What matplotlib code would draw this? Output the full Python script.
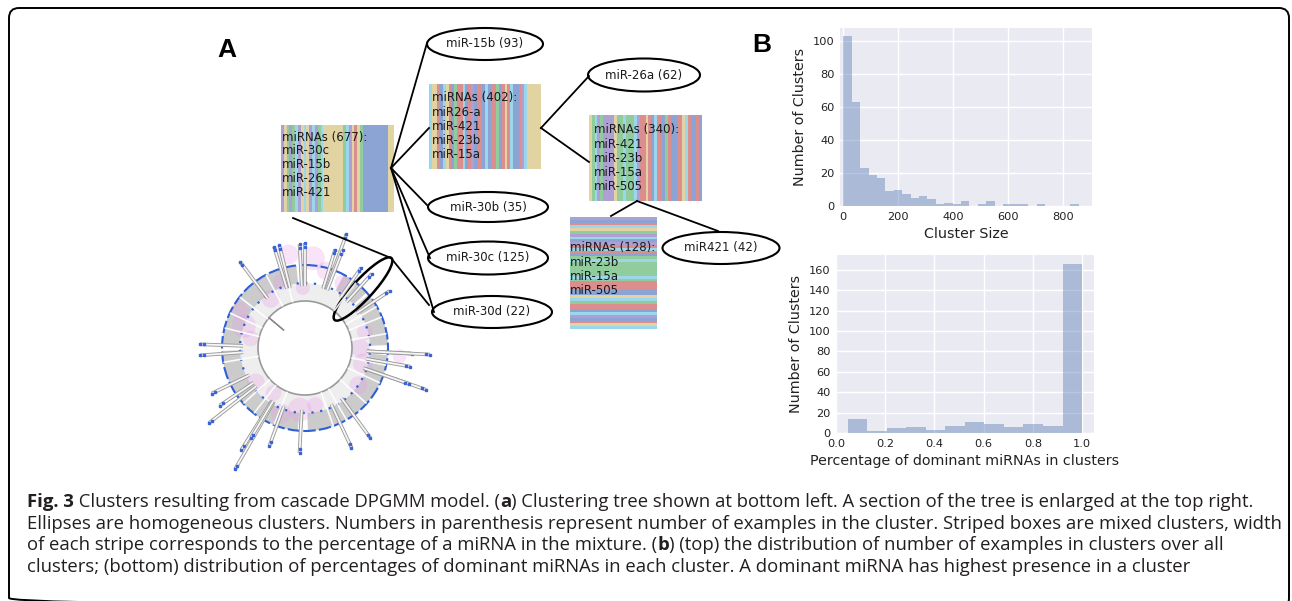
import numpy as np
import matplotlib
matplotlib.use("Agg")
import matplotlib.pyplot as plt
from matplotlib import font_manager
from matplotlib.patches import Ellipse, Rectangle, Wedge, Circle, FancyBboxPatch

# ---------------- panel B data ----------------
size_counts = [103, 63, 23, 19, 17, 9, 10, 7, 5, 6, 4, 1, 2, 1, 3, 0,
               1, 3, 0, 1, 1, 1, 0, 1, 0, 0, 0, 1]
size_bin_width = 30.6
dom_counts = [14, 2, 5, 6, 3, 7, 11, 9, 6, 9, 7, 166]
dom_bin_start = 0.047
dom_bin_width = 0.0794
size_ticks = [0, 200, 400, 600, 800]
dom_ticks = [0.0, 0.2, 0.4, 0.6, 0.8, 1.0]

# ---------------- panel A data ----------------
leaf_labels = ["miR-15b (93)", "miR-26a (62)", "miR-30b (35)",
               "miR-30c (125)", "miR-30d (22)", "miR421 (42)"]
mixed_labels = ["miRNAs (677):\nmiR-30c\nmiR-15b\nmiR-26a\nmiR-421",
                "miRNAs (402):\nmiR26-a\nmiR-421\nmiR-23b\nmiR-15a",
                "miRNAs (340):\nmiR-421\nmiR-23b\nmiR-15a\nmiR-505",
                "miRNAs (128):\nmiR-23b\nmiR-15a\nmiR-505"]
# one letter per stripe unit (b blue, r red, g green, p purple, y sand, c cyan)
mixed_stripes = ["pygpgcpycypcpgcyyyyyyygcpyrygbbbbbbbbbyy",
                 "cyyrbcyrbgrrcbrpbrrbcbrrgbryrcbbrpcyyyyy",
                 "ygcpgppppyggcgggcprryrbcrrbgrbbrrycrbbrb",
                 "pbrcygpcbprcrbgcgggggcgrrrbbycgrrbcpbryc"]
stripe_colors = {"b": "#8ba4d4", "r": "#dc8e8f", "g": "#91cc9c",
                 "p": "#ae9fd4", "y": "#e2d4a2", "c": "#9cd6ea"}

# circular clustering tree (angles in degrees, radii in px)
spike_angle = [70, 69, 73, 90, 93, 104, 107, 127, 34, 178, 184, -3, -3, -10,
               -19, -19, 206, 214, 218, 238, 240, 239, 250, 267, -65, -54, 48, 55]
spike_radius = [121, 105, 103, 105, 104, 106, 106, 108, 102, 105, 105, 107, 125, 107,
                128, 110, 104, 103, 122, 120, 140, 105, 104, 105, 110, 111, 100, 98]
band_sectors = [(96, 178), (182, 265), (272, 355), (2, 40), (42, 62)]
gap_angle = [105, 118, 142, 155, 166, 190, 222, 232, 248, 290, 300, 318, 335, 348, 10, 22, 30, 52]
blob_angle = [85, 100, 75, 110, 92, 160, 150, 170, 215, 235, 265, 280, 250,
              -15, 0, 15, -35, -5, 60, 125]
blob_radius = [90, 95, 80, 70, 60, 65, 75, 55, 60, 55, 62, 58, 70, 60, 55, 62, 65, 95, 75, 60]
blob_size = [12, 10, 9, 8, 7, 12, 9, 8, 9, 8, 12, 8, 10, 10, 9, 8, 9, 7, 8, 9]

caption = [
    [("Fig. 3", "bold"), (" Clusters resulting from cascade DPGMM model. (", "normal"),
     ("a", "bold"), (") Clustering tree shown at bottom left. A section of the tree is enlarged at the top right.", "normal")],
    [("Ellipses are homogeneous clusters. Numbers in parenthesis represent number of examples in the cluster. Striped boxes are mixed clusters, width", "normal")],
    [("of each stripe corresponds to the percentage of a miRNA in the mixture. (", "normal"),
     ("b", "bold"), (") (top) the distribution of number of examples in clusters over all", "normal")],
    [("clusters; (bottom) distribution of percentages of dominant miRNAs in each cluster. A dominant miRNA has highest presence in a cluster", "normal")],
]

W, H = 1292, 601
fig = plt.figure(figsize=(W / 100, H / 100), dpi=100)
ax0 = fig.add_axes([0, 0, 1, 1])
ax0.set_xlim(0, W)
ax0.set_ylim(H, 0)
ax0.axis("off")
renderer = fig.canvas.get_renderer()

# outer frame
ax0.add_patch(FancyBboxPatch((9, 8), 1280, 600, boxstyle="round,pad=0,rounding_size=10",
                             fc="none", ec="black", lw=1.4))

ax0.text(227, 50, "A", fontsize=19, fontweight="bold", family="Liberation Sans",
         ha="center", va="center")
ax0.text(762, 45, "B", fontsize=19, fontweight="bold", family="Liberation Sans",
         ha="center", va="center")

# ---- tree ----
cx, cy = 305, 348


def polar(a, r):
    t = np.deg2rad(a)
    return cx + r * np.cos(t), cy - r * np.sin(t)


ax0.add_patch(Wedge((cx, cy), 65, 0, 360, width=18, fc="#d0d0d0", alpha=0.35, lw=0))
for a1, a2 in band_sectors:
    ax0.add_patch(Wedge((cx, cy), 83, -a2, -a1, width=18, fc="#8c8c8c", alpha=0.45, lw=0))
for a in gap_angle:
    ax0.plot(*zip(polar(a, 48), polar(a, 82)), color="white", lw=1.2, alpha=0.9)
for a, r, s in zip(blob_angle, blob_radius, blob_size):
    ax0.add_patch(Circle(polar(a, r), s, fc="#e79be9", alpha=0.28, lw=0))
for a, r in zip(spike_angle, spike_radius):
    x1, y1 = polar(a, 62)
    x2, y2 = polar(a, r)
    ax0.plot([x1, x2], [y1, y2], color="#9a9a9a", lw=2.6, solid_capstyle="butt")
    ax0.plot([x1, x2], [y1, y2], color="#f6f6f6", lw=1.3, solid_capstyle="butt")
    ax0.plot(*polar(a, r), "s", color="#3a63d8", ms=1.8)
    ax0.plot(*polar(a, r - 4), "s", color="#3a63d8", ms=1.8)
ax0.plot(*zip(polar(140, 28), polar(140, 47)), color="#888888", lw=1)
ax0.add_patch(Circle((cx, cy), 47, fc="white", ec="#999999", lw=1.2))
ax0.add_patch(Circle((cx, cy), 65, fc="none", ec="#2f5fd6", lw=1.6, ls=(0, (1, 3))))
ax0.add_patch(Circle((cx, cy), 83, fc="none", ec="#2f5fd6", lw=1.5, ls=(0, (6, 1.5))))
ax0.plot(*zip(polar(140, 28), polar(140, 47)), color="#888888", lw=1)
ax0.add_patch(Ellipse((363, 289), 84, 20, angle=-47.4, fc="none", ec="black", lw=1.8))

# ---- connecting lines ----
edges = [((391, 168), (427, 43)), ((391, 168), (429, 128)), ((391, 168), (427, 205)),
         ((391, 168), (430, 258)), ((391, 168), (434, 312)),
         ((541, 128), (589, 76)), ((541, 128), (589, 162)),
         ((637, 201), (611, 216)), ((637, 201), (718, 231)),
         ((293, 218), (391, 258)), ((391, 258), (429, 305))]
for p, q in edges:
    ax0.plot([p[0], q[0]], [p[1], q[1]], color="black", lw=1.3)

# ---- striped mixed clusters ----
box_geom = [(281, 125, 113, 87, "v"), (429, 84, 112, 85, "v"),
            (589, 115, 113, 86, "v"), (570, 217, 87, 112, "h")]
text_pos = [(282, 165), (432, 126), (594, 158), (570, 269)]
for (bx, by, bw, bh, o), s, lab, (tx, ty) in zip(box_geom, mixed_stripes, mixed_labels, text_pos):
    n = len(s)
    for i, ch in enumerate(s):
        if o == "v":
            rect = Rectangle((bx + i * bw / n, by), bw / n + 0.3, bh)
        else:
            rect = Rectangle((bx, by + i * bh / n), bw, bh / n + 0.3)
        rect.set_facecolor(stripe_colors[ch])
        rect.set_linewidth(0)
        ax0.add_patch(rect)
    ax0.text(tx, ty, lab, fontsize=8.5, color="#1a1a1a", ha="left", va="center",
             linespacing=1.1)

# ---- homogeneous clusters ----
leaf_geom = [(485, 44, 116, 32), (644, 75, 112, 33), (488, 207, 120, 30),
             (488, 258, 120, 33), (492, 312, 120, 32), (721, 248, 117, 32)]
for (ex, ey, ew, eh), lab in zip(leaf_geom, leaf_labels):
    ax0.add_patch(Ellipse((ex, ey), ew, eh, fc="white", ec="black", lw=1.5))
    ax0.text(ex, ey, lab, fontsize=8.5, color="#1a1a1a", ha="center", va="center")

# ---- histograms ----
def style(ax):
    ax.set_facecolor("#eaeaf2")
    ax.grid(True, color="white", lw=1)
    ax.set_axisbelow(True)
    for sp in ax.spines.values():
        sp.set_visible(False)
    ax.tick_params(length=0, labelsize=8.2, labelcolor="#222222", pad=4)


ax1 = fig.add_axes([840 / W, 1 - 206 / H, 252 / W, 178 / H])
style(ax1)
ax1.bar(np.arange(len(size_counts)) * size_bin_width, size_counts, width=size_bin_width,
        align="edge", color="#4c72b0", alpha=0.4, lw=0)
ax1.set_xlim(-12, 905)
ax1.set_ylim(0, 108)
ax1.set_xticks(size_ticks)
ax1.set_yticks([0, 20, 40, 60, 80, 100])
ax1.set_xlabel("Cluster Size", fontsize=10.3, color="#222222")
ax1.set_ylabel("Number of Clusters", fontsize=10.3, color="#222222")

ax2 = fig.add_axes([836 / W, 1 - 433 / H, 258 / W, 178 / H])
style(ax2)
ax2.bar(dom_bin_start + np.arange(len(dom_counts)) * dom_bin_width, dom_counts,
        width=dom_bin_width, align="edge", color="#4c72b0", alpha=0.4, lw=0)
ax2.set_xlim(0.0, 1.048)
ax2.set_ylim(0, 174.5)
ax2.set_xticks(dom_ticks)
ax2.set_xticklabels([f"{t:.1f}" for t in dom_ticks])
ax2.set_yticks(range(0, 161, 20))
ax2.set_xlabel("Percentage of dominant miRNAs in clusters", fontsize=10.3, color="#222222")
ax2.set_ylabel("Number of Clusters", fontsize=10.3, color="#222222")

# ---- caption ----
installed = {f.name for f in font_manager.fontManager.ttflist}
cap_font = "Liberation Sans Narrow" if "Liberation Sans Narrow" in installed else "Open Sans"


def seg_width(txt, weight, size):
    t = ax0.text(0, 0, txt + "|", fontsize=size, fontweight=weight, family=cap_font)
    b = t.get_window_extent(renderer=renderer).width
    t.remove()
    t = ax0.text(0, 0, "|", fontsize=size, fontweight=weight, family=cap_font)
    b -= t.get_window_extent(renderer=renderer).width
    t.remove()
    return b


widest = max(sum(seg_width(t, w, 10) for t, w in line) for line in caption)
cap_size = 10 * (1279 - 27) / widest
for k, line in enumerate(caption):
    x = 27
    y = 502 + k * 21.7
    for txt, w in line:
        ax0.text(x, y, txt, fontsize=cap_size, fontweight=w, family=cap_font,
                 color="#231f20", ha="left", va="center")
        x += seg_width(txt, w, cap_size)

fig.savefig("out.png", dpi=100)
